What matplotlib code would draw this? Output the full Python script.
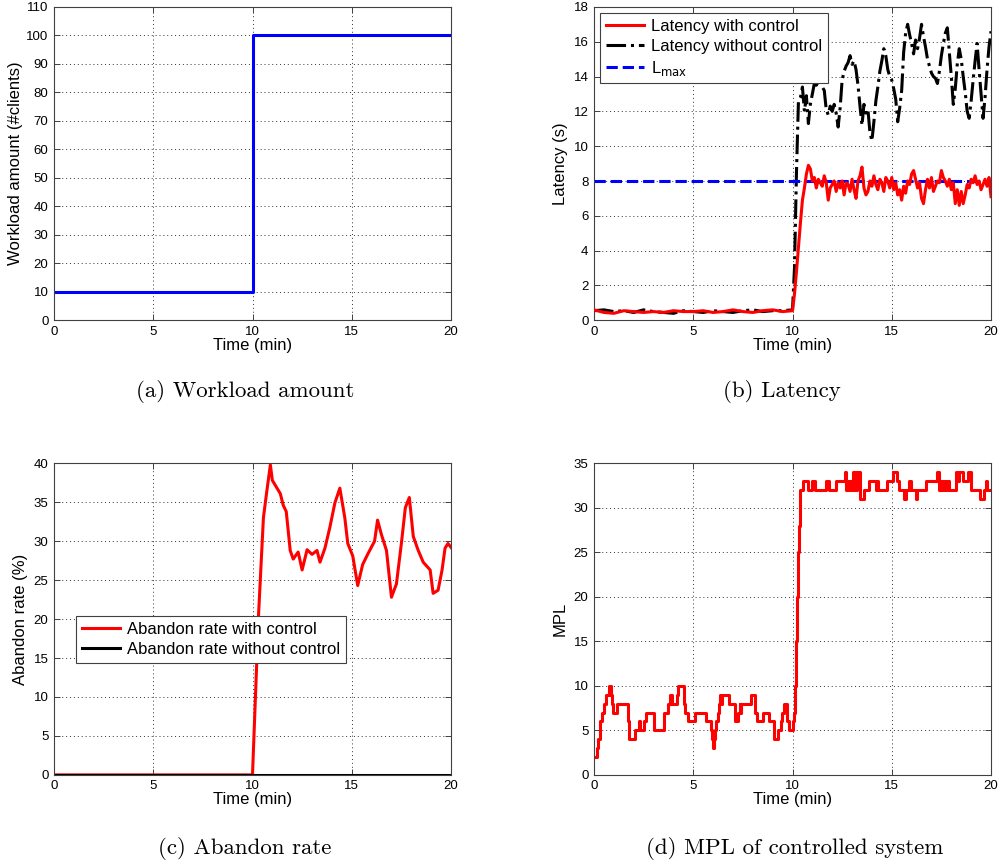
import numpy as np
import matplotlib
matplotlib.use('Agg')
import matplotlib.pyplot as plt

plt.rcParams['font.family'] = ['Liberation Sans', 'DejaVu Sans']

# (a) workload
work_t = [0, 10, 20]
work_v = [10, 100, 100]

# (b) latency, coarse part 0..10 (step 0.5) and fine part 10.1..20 (step 0.1)
lat_t_low = np.arange(0, 10.01, 0.5)
lat_ctrl_low = [0.6, 0.45, 0.4, 0.55, 0.5, 0.45, 0.5, 0.45, 0.55, 0.5, 0.5,
                0.55, 0.45, 0.5, 0.6, 0.5, 0.45, 0.55, 0.6, 0.5, 0.55]
lat_noctrl_low = [0.55, 0.6, 0.5, 0.55, 0.45, 0.6, 0.5, 0.45, 0.4, 0.55, 0.5,
                  0.45, 0.55, 0.5, 0.45, 0.55, 0.6, 0.5, 0.55, 0.55, 0.6]
lat_t_high = np.round(np.arange(10.1, 20.01, 0.1), 1)
lat_ctrl_high = [1.5, 2.8, 4.2, 5.6, 6.9, 7.6, 8.4, 8.9, 8.7, 8.0,
                 8.2, 7.6, 8.1, 7.9, 7.7, 8.3, 7.9, 6.9, 7.6, 7.8,
                 8.0, 7.4, 7.9, 7.6, 8.0, 7.2, 7.9, 7.8, 7.4, 8.1,
                 7.5, 7.0, 8.0, 8.3, 8.8, 7.6, 7.2, 7.4, 8.0, 7.7,
                 8.3, 7.8, 7.5, 8.1, 7.9, 7.4, 8.2, 8.0, 7.6, 8.2,
                 7.5, 7.9, 7.2, 7.5, 6.9, 7.7, 7.3, 8.0, 7.8, 8.4,
                 8.6, 8.1, 7.6, 7.9, 7.0, 6.7, 7.5, 8.1, 7.6, 8.2,
                 7.4, 7.7, 8.0, 7.9, 8.6, 8.2, 8.0, 7.7, 8.1, 7.5,
                 7.9, 6.7, 7.5, 6.6, 7.4, 6.7, 7.2, 7.8, 7.6, 8.1,
                 7.9, 8.3, 7.8, 8.0, 7.5, 7.8, 8.1, 7.7, 8.2, 7.1]
lat_noctrl_high = [3.0, 8.5, 12.6, 12.8, 13.4, 12.0, 12.9, 11.3, 12.4, 13.0,
                   13.6, 13.5, 13.7, 13.8, 13.4, 13.2, 12.1, 11.8, 12.3, 12.0,
                   12.4, 11.9, 11.1, 12.2, 13.8, 14.3, 14.6, 14.8, 15.2, 14.7,
                   14.9, 14.4, 13.5, 12.3, 11.2, 12.4, 11.9, 12.1, 10.8, 10.3,
                   11.4, 12.6, 13.4, 14.3, 14.9, 15.6, 15.2, 14.4, 14.0, 13.8,
                   13.3, 12.7, 11.4, 12.2, 13.2, 15.4, 16.5, 17.0, 16.4, 15.9,
                   15.3, 16.1, 15.6, 16.2, 17.0, 16.3, 15.7, 15.0, 14.6, 14.2,
                   14.0, 13.9, 13.6, 14.3, 15.2, 15.9, 16.5, 16.8, 15.4, 14.0,
                   12.4, 13.3, 14.7, 15.6, 15.0, 14.0, 13.1, 12.0, 11.6, 12.6,
                   13.8, 14.9, 15.9, 14.4, 13.0, 11.6, 12.8, 14.4, 15.7, 16.6]
l_max = 8

# (c) abandon rate
ab_t = [0, 10.0, 10.3, 10.55, 10.7, 10.9, 11.0, 11.4, 11.55, 11.7, 11.9, 12.05,
        12.3, 12.5, 12.75, 13.0, 13.25, 13.4, 13.65, 13.9, 14.15, 14.4, 14.65,
        14.8, 15.05, 15.3, 15.55, 15.8, 16.15, 16.3, 16.5, 16.75, 17.0, 17.25,
        17.5, 17.7, 17.9, 18.1, 18.35, 18.6, 18.95, 19.1, 19.35, 19.55, 19.7,
        19.85, 20.0]
ab_ctrl = [0, 0, 20.3, 33.0, 36.0, 39.8, 37.8, 36.1, 34.6, 33.8, 28.8, 27.7,
           28.6, 26.3, 28.9, 28.3, 28.8, 27.3, 29.1, 31.8, 34.9, 36.8, 33.0,
           29.7, 28.1, 24.3, 27.0, 28.3, 30.0, 32.7, 30.8, 28.8, 22.8, 24.5,
           29.7, 34.3, 35.6, 30.6, 28.8, 27.3, 26.3, 23.3, 23.7, 26.3, 29.1,
           29.7, 29.2]
ab_noctrl_t = [0, 20]
ab_noctrl = [0, 0]

# (d) MPL (value holds from each time until the next)
mpl_t = [0, 0.13, 0.22, 0.3, 0.4, 0.5, 0.6, 0.78, 0.85, 0.9, 0.95, 1.17, 1.7,
         1.75, 2.08, 2.28, 2.33, 2.53, 2.63, 3.0, 3.03, 3.53, 3.75, 3.83, 3.93,
         4.17, 4.25, 4.53, 4.6, 4.73, 5.07, 5.65, 5.87, 5.92, 5.97, 6.03, 6.1,
         6.17, 6.25, 6.3, 6.37, 6.42, 6.47, 6.78, 7.12, 7.25, 7.33, 7.38, 7.43,
         7.93, 8.13, 8.22, 8.5, 8.82, 9.08, 9.25, 9.4, 9.47, 9.55, 9.7, 9.8,
         10.0, 10.07, 10.12, 10.17, 10.22, 10.27, 10.32, 10.4, 10.55, 10.77,
         10.97, 11.14, 11.68, 11.86, 12.18, 12.65, 12.68, 12.73, 12.81, 12.9,
         12.98, 13.07, 13.15, 13.23, 13.4, 13.62, 13.85, 14.2, 14.27, 14.32,
         14.77, 15.08, 15.28, 15.38, 15.63, 15.71, 15.88, 15.95, 16.2, 16.28,
         16.72, 17.3, 17.39, 17.47, 17.55, 17.64, 17.72, 17.81, 17.89, 18.22,
         18.31, 18.39, 18.59, 18.86, 18.98, 19.43, 19.65, 19.73, 19.82, 20.0]
mpl_v = [2, 3, 4, 6, 7, 8, 9, 10, 9, 8, 7, 8, 6,
         4, 5, 6, 5, 6, 7, 6, 5, 7, 8, 9, 8,
         9, 10, 8, 7, 6, 7, 6, 5, 4, 3, 4, 5,
         6, 7, 8, 9, 8, 9, 8, 6, 7, 8, 7, 8,
         9, 7, 6, 7, 6, 4, 5, 6, 7, 8, 6, 5,
         6, 7, 10, 15, 20, 25, 28, 32, 33, 32,
         33, 32, 33, 32, 33, 34, 32, 33, 32, 33,
         32, 34, 32, 34, 31, 32, 33, 32, 33, 32,
         33, 34, 33, 32, 31, 32, 33, 32, 31, 32,
         33, 34, 32, 33, 32, 33, 32, 33, 32, 34,
         33, 34, 33, 34, 32, 31, 32, 33, 32, 32]


def style_axes(ax, ymax, ystep):
    ax.set_xlim(0, 20)
    ax.set_ylim(0, ymax)
    ax.set_xticks(range(0, 21, 5))
    ax.set_yticks(np.arange(0, ymax + 0.1, ystep))
    ax.grid(True, linestyle=(0, (1, 3)), color='0.2', linewidth=0.7)
    ax.tick_params(direction='in', top=True, right=True, labelsize=9.5,
                   length=4, width=0.7, color='0.25', pad=4)
    for s in ax.spines.values():
        s.set_color('0.25')
        s.set_linewidth(0.8)
    ax.set_xlabel('Time (min)', fontsize=12, labelpad=0)


fig = plt.figure(figsize=(10, 8.61), dpi=100)
ax_a = fig.add_axes([0.054, 0.628, 0.397, 0.364])
ax_b = fig.add_axes([0.594, 0.628, 0.397, 0.364])
ax_c = fig.add_axes([0.054, 0.100, 0.397, 0.362])
ax_d = fig.add_axes([0.594, 0.100, 0.397, 0.362])

leg_kw = dict(fontsize=12, fancybox=False, edgecolor='0.25', framealpha=1,
              handlelength=2.3, handletextpad=0.4, labelspacing=0.3,
              borderpad=0.35)

# (a)
ax_a.plot(work_t, work_v, color='blue', lw=2.2, drawstyle='steps-post')
style_axes(ax_a, 110, 10)
ax_a.set_ylabel('Workload amount (#clients)', fontsize=12, labelpad=2)

# (b)
lat_t = np.concatenate([lat_t_low, lat_t_high])
ax_b.plot(lat_t, lat_ctrl_low + lat_ctrl_high, color='red', lw=2.2,
          label='Latency with control', zorder=3)
ax_b.plot(lat_t, lat_noctrl_low + lat_noctrl_high, color='black', lw=2.2,
          linestyle='-.', label='Latency without control')
ax_b.plot([0, 20], [l_max, l_max], color='blue', lw=2.2, linestyle='--',
          label='L$_{\\rm max}$')
style_axes(ax_b, 18, 2)
ax_b.set_ylabel('Latency (s)', fontsize=12, labelpad=4)
leg = ax_b.legend(loc='upper left', borderaxespad=0.35, **leg_kw)
leg.get_frame().set_linewidth(0.8)

# (c)
ax_c.plot(ab_t, ab_ctrl, color='red', lw=2.2, label='Abandon rate with control')
ax_c.plot(ab_noctrl_t, ab_noctrl, color='black', lw=2.2,
          label='Abandon rate without control')
style_axes(ax_c, 40, 5)
ax_c.set_ylabel('Abandon rate (%)', fontsize=12, labelpad=4)
leg = ax_c.legend(loc='upper left', bbox_to_anchor=(0.055, 0.51),
                  borderaxespad=0, **leg_kw)
leg.get_frame().set_linewidth(0.8)

# (d)
ax_d.plot(mpl_t, mpl_v, color='red', lw=2.2, drawstyle='steps-post')
style_axes(ax_d, 35, 5)
ax_d.set_ylabel('MPL', fontsize=12, labelpad=4)

cap = dict(fontsize=16.5, family='cmr10', ha='center', va='center')
fig.text(0.245, 1 - 391 / 861, '(a) Workload amount', **cap)
fig.text(0.782, 1 - 391 / 861, '(b) Latency', **cap)
fig.text(0.245, 1 - 848 / 861, '(c) Abandon rate', **cap)
fig.text(0.795, 1 - 848 / 861, '(d) MPL of controlled system', **cap)

fig.savefig('out.png', dpi=100)
